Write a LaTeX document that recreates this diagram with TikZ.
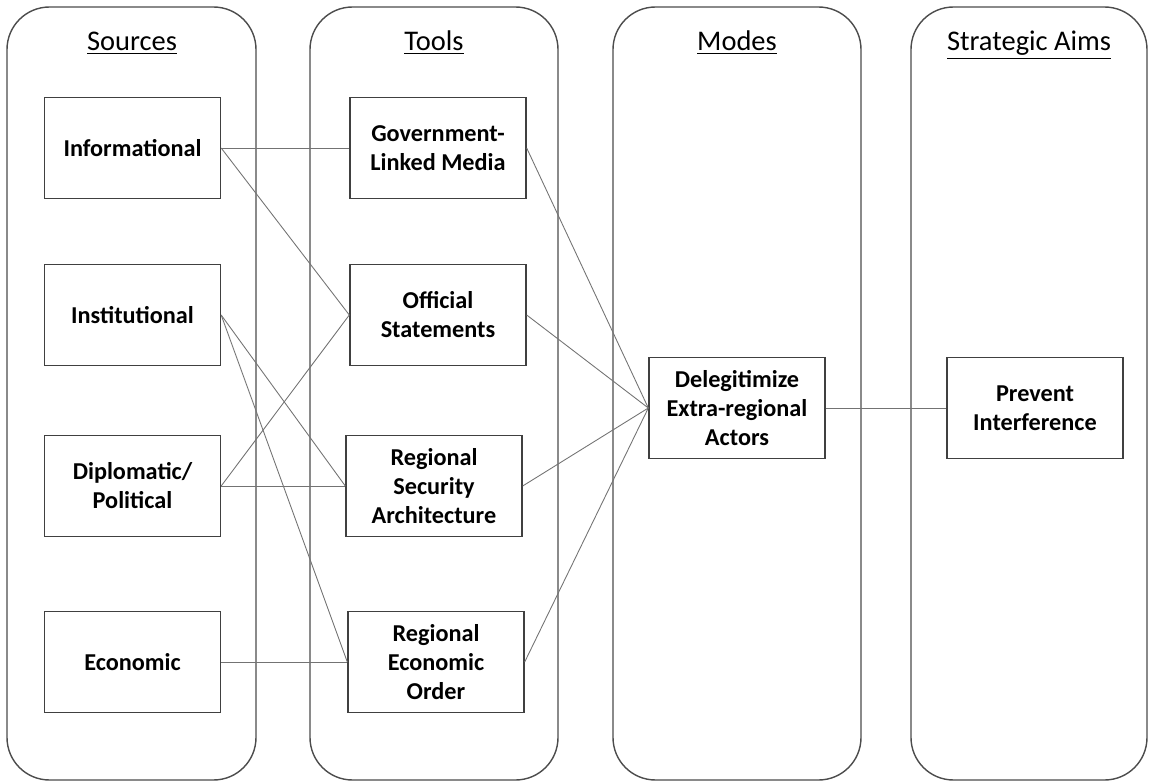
\documentclass[tikz,border=0pt]{standalone}
\usepackage{fontspec}
\setmainfont{Carlito}
\usepackage{tikz}
\usepackage{xcolor}
\usetikzlibrary{positioning}

\tikzset{
	column/.style={draw=black!70, line width=0.8pt, rounded corners=0.85cm},
	item/.style={draw=black!75, line width=0.8pt, minimum width=3.52cm, minimum height=2.02cm, align=center, font=\fontsize{13.8}{16.5}\selectfont\bfseries},
	title/.style={anchor=base, font=\fontsize{16.2}{19}\selectfont},
	link/.style={draw=black!55, line width=0.5pt}
}

\begin{document}
\begin{tikzpicture}[x=0.02cm, y=-0.02cm]
		\useasboundingbox (0,0) rectangle (1154,784);
		%
		%Spalten
		\draw[column] (7,7) rectangle (256,780);
		\draw[column] (310,7) rectangle (558,780);
		\draw[column] (613,7) rectangle (861,780);
		\draw[column] (911,7) rectangle (1147,780);
		%
		%Ueberschriften
		\node[title] (tSources) at (132,51) {\underline{Sources}};
		\node[title] (tTools) at (434,51) {\underline{Tools}};
		\node[title] (tModes) at (737,51) {\underline{Modes}};
		\node[title] (tAims) at (1029,51) {\underline{Strategic Aims}};
		%
		%Sources
		\node[item] (info) at (132.5,148) {Informational};
		\node[item] (inst) at (132.5,315) {Institutional};
		\node[item] (dipl) at (132.5,486) {Diplomatic/\\Political};
		\node[item] (econ) at (132.5,662) {Economic};
		%
		%Tools
		\node[item] (media) at (438,148) {Government-\\Linked Media};
		\node[item] (stat) at (438,315) {Official\\Statements};
		\node[item] (secu) at (434,486) {Regional\\Security\\Architecture};
		\node[item] (order) at (436,662) {Regional\\Economic\\Order};
		%
		%Modes
		\node[item] (deleg) at (737,408) {Delegitimize\\Extra-regional\\Actors};
		%
		%Strategic Aims
		\node[item] (prev) at (1035,408) {Prevent\\Interference};
		%
		%Verbindungen Sources - Tools
		\draw[link] (info.east) -- (media.west);
		\draw[link] (info.east) -- (stat.west);
		\draw[link] (inst.east) -- (secu.west);
		\draw[link] (inst.east) -- (order.west);
		\draw[link] (dipl.east) -- (stat.west);
		\draw[link] (dipl.east) -- (secu.west);
		\draw[link] (econ.east) -- (order.west);
		%
		%Verbindungen Tools - Modes
		\draw[link] (media.east) -- (deleg.west);
		\draw[link] (stat.east) -- (deleg.west);
		\draw[link] (secu.east) -- (deleg.west);
		\draw[link] (order.east) -- (deleg.west);
		%
		%Verbindung Modes - Strategic Aims
		\draw[link] (deleg.east) -- (prev.west);
	\end{tikzpicture}
\end{document}
